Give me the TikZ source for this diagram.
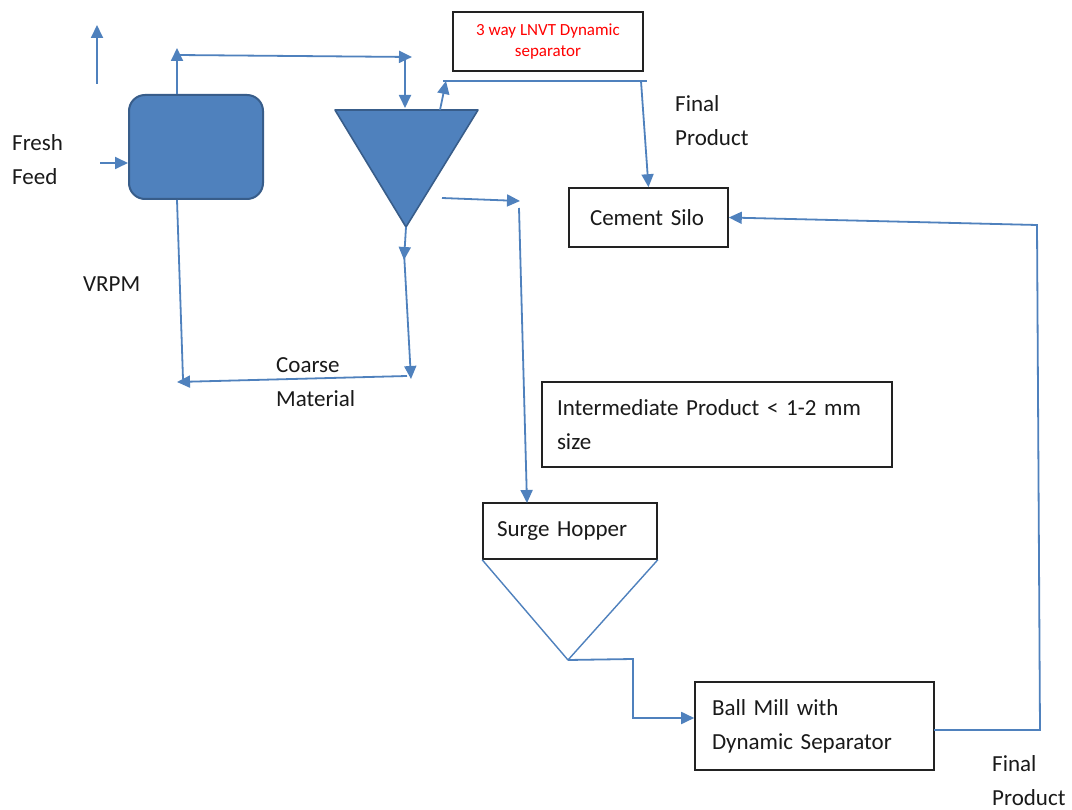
\documentclass[tikz,border=0pt]{standalone}
\usepackage{fontspec}
\setmainfont{Carlito}
\usetikzlibrary{arrows.meta,calc}
\definecolor{lineblue}{HTML}{4F81BD}
\definecolor{fillblue}{HTML}{4F81BD}
\definecolor{edgeblue}{HTML}{385D8A}
\definecolor{txt}{HTML}{1A1A1A}
\definecolor{boxedge}{HTML}{222222}
\begin{document}
\begin{tikzpicture}[x=1pt,y=-1pt,
  flow/.style={draw=lineblue,line width=1.8pt,-{Triangle[length=13pt,width=12pt]}},
  pipe/.style={draw=lineblue,line width=1.8pt},
  boxnode/.style={draw=boxedge,line width=1.6pt,rectangle,inner xsep=0pt,inner ysep=0pt,align=left,font=\fontsize{23}{34}\selectfont,text=txt},
  lbl/.style={anchor=base west,inner sep=0pt,align=left,font=\fontsize{23}{34}\selectfont,text=txt}]
\useasboundingbox[fill=white] (0,0) rectangle (1072,810);

% equipment
\node[draw=edgeblue,fill=fillblue,line width=2pt,rounded corners=16pt,minimum width=134pt,minimum height=104pt] (vrpm) at (196,147) {};
\coordinate (tl) at (335,110);
\coordinate (tr) at (478,110);
\coordinate (tb) at (406,227);
\filldraw[fill=fillblue,draw=edgeblue,line width=1.6pt,line join=round] (tl) -- (tr) -- (tb) -- cycle;

\node[draw=boxedge,line width=1.6pt,minimum width=190pt,minimum height=59pt,align=center,inner sep=0pt,font=\fontsize{17}{21}\selectfont,text=red] (sep) at (548,41.5) {3 way LNVT Dynamic\\separator};
\node[boxnode,minimum width=159pt,minimum height=59pt,text width=117pt] (silo) at (648.5,217.5) {Cement Silo};
\node[boxnode,minimum width=350pt,minimum height=85pt,text width=320pt] (inter) at (717,424.5) {Intermediate Product < 1-2 mm\\size};
\node[boxnode,minimum width=174pt,minimum height=56pt,text width=146pt] (surge) at (570,531) {Surge Hopper};
\node[boxnode,minimum width=239pt,minimum height=88pt,text width=205pt] (ball) at (814.5,726) {Ball Mill with\\Dynamic Separator};

% labels (base anchor = baseline of the last line)
\node[lbl] (fresh) at (12,185) {Fresh\\Feed};
\node[lbl] (vrpmlbl) at (83,292) {VRPM};
\node[lbl] (coarse) at (276,407) {Coarse\\Material};
\node[lbl] (fp1) at (675,146) {Final\\Product};
\node[lbl] (fp2) at (992,805) {Final\\Product};

% coordinates for connectors
\coordinate (upA) at (97,84);
\coordinate (upB) at (97,25);
\coordinate (ffS) at (100,163);
\coordinate (vtop) at (177,48);
\coordinate (h1a) at (177,55);
\coordinate (h1b) at (412,57);
\coordinate (v1a) at (405,57);
\coordinate (v1b) at (405,108);
\coordinate (s1a) at (440,110);
\coordinate (s1b) at (446,81);
\coordinate (h2a) at (443,81);
\coordinate (h2b) at (647,81);
\coordinate (d2a) at (641,81);
\coordinate (r1a) at (442,198);
\coordinate (r1b) at (520,201);
\coordinate (d3a) at (519,208);
\coordinate (d3b) at (527,503);
\coordinate (c1) at (404,260);
\coordinate (c2) at (404,252);
\coordinate (c3) at (411,379);
\coordinate (c4) at (407,376);
\coordinate (c5) at (177,382);
\coordinate (c6) at (183,379);
\coordinate (hb) at (568,660);
\coordinate (hk1) at (633,659);
\coordinate (hk2) at (633,718);
\coordinate (bm) at (934,730);
\coordinate (rk1) at (1040,730);
\coordinate (rk2) at (1037,225);

% connectors
\draw[flow] (upA) -- (upB);
\draw[flow] (ffS) -- (ffS -| vrpm.west);
\draw[flow] (vrpm.north -| vtop) -- (vtop);
\draw[flow] (h1a) -- (h1b);
\draw[flow] (v1a) -- (v1b);
\draw[flow] (s1a) -- (s1b);
\draw[pipe] (h2a) -- (h2b);
\draw[flow] (d2a) -- (silo.north);
\draw[flow] (r1a) -- (r1b);
\draw[flow] (d3a) -- (d3b);
\draw[flow] (tb) -- (c1);
\draw[flow] (c2) -- (c3);
\draw[flow] (c4) -- (c5);
\draw[pipe] (vrpm.south -| vtop) -- (c6);
\draw[draw=lineblue,line width=1.4pt,line join=round] (surge.south west) -- (hb) -- (surge.south east);
\draw[flow] (hb) -- (hk1) -- (hk2) -- (hk2 -| ball.west);
\draw[flow] (bm) -- (rk1) -- (rk2) -- (silo.east);
\end{tikzpicture}
\end{document}
